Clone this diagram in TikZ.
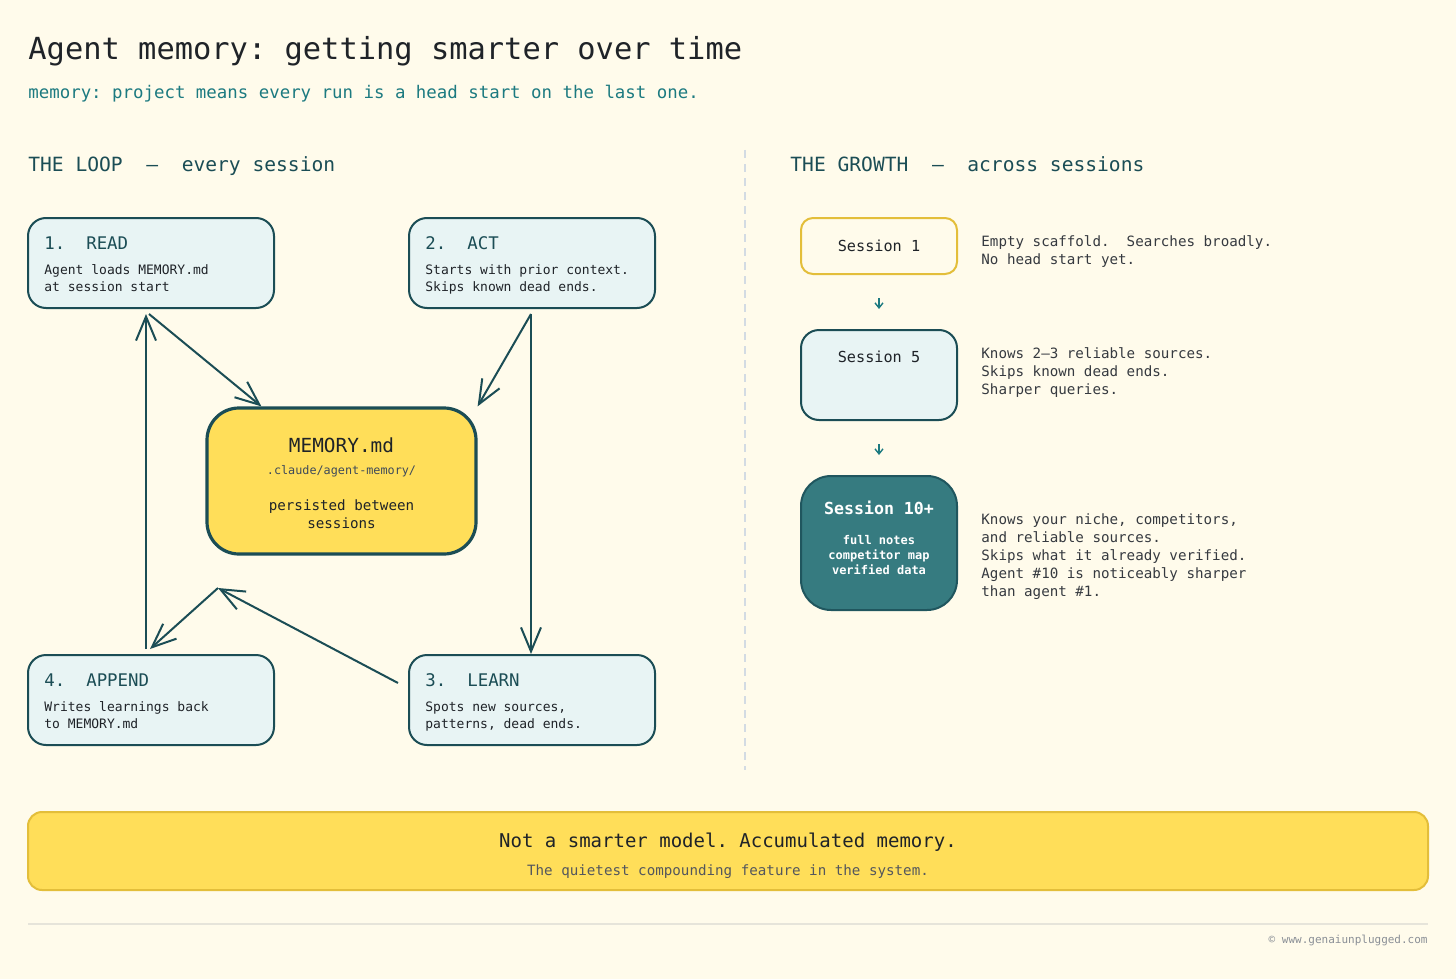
\documentclass[tikz,border=0pt]{standalone}
\usepackage{fontspec}
\setmainfont{DejaVu Sans Mono}
\usetikzlibrary{arrows.meta, positioning, calc}
\frenchspacing
\definecolor{paper}{HTML}{FFFBEB}
\definecolor{inkdark}{HTML}{1F2328}
\definecolor{loopteal}{HTML}{1B4D55}
\definecolor{subteal}{HTML}{1C7A80}
\definecolor{boxfill}{HTML}{E8F4F4}
\definecolor{memyellow}{HTML}{FFDE59}
\definecolor{goldline}{HTML}{E3BE3A}
\definecolor{sessteal}{HTML}{367B80}
\definecolor{slate}{HTML}{3E4A5A}
\definecolor{descgray}{HTML}{363A40}
\definecolor{softgray}{HTML}{8A8F96}
\definecolor{divider}{HTML}{D3DBE3}
\definecolor{rulegray}{HTML}{E6E4DA}
\tikzset{
    txt/.style={inner sep=0pt, anchor=base west, align=left},
    stepbox/.style={rectangle, draw=loopteal, fill=boxfill, line width=1pt, rounded corners=9pt, minimum width=123pt, minimum height=45pt},
    steptitle/.style={txt, text=loopteal, font=\fontsize{8.7pt}{10pt}\selectfont},
    stepbody/.style={txt, text=inkdark, font=\fontsize{6.5pt}{8.5pt}\selectfont},
    memobox/.style={rectangle, draw=loopteal, fill=memyellow, line width=1.6pt, rounded corners=16pt, minimum width=134.5pt, minimum height=73pt},
    sessbox/.style={rectangle, line width=1pt, minimum width=78pt, font=\fontsize{7.6pt}{9pt}\selectfont, text=inkdark},
    desc/.style={txt, text=descgray, font=\fontsize{7.1pt}{9pt}\selectfont},
    flow/.style={-{Straight Barb[length=12pt, width=10pt]}, line width=1pt, draw=loopteal},
    growflow/.style={-{Straight Barb[length=2.5pt, width=4pt]}, line width=0.7pt, draw=subteal, shorten <=11.5pt, shorten >=10pt}
}

\begin{document}
\begin{tikzpicture}[x=0.5pt, y=-0.5pt]
    \fill[paper] (0,0) rectangle (1456,979);
    \useasboundingbox (0,0) rectangle (1456,979);

    % heading
    \node[txt, text=inkdark, font=\fontsize{15.2pt}{18pt}\selectfont] (title) at (28,60) {Agent memory: getting smarter over time};
    \node[txt, text=subteal, font=\fontsize{8.7pt}{10pt}\selectfont] (subtitle) at (28,99) {memory: project means every run is a head start on the last one.};
    \node[txt, text=loopteal, font=\fontsize{9.8pt}{11pt}\selectfont] (loophead) at (28,171) {THE LOOP~~—~~every session};
    \node[txt, text=loopteal, font=\fontsize{9.8pt}{11pt}\selectfont] (growhead) at (790,171) {THE GROWTH~~—~~across sessions};
    \draw[divider, line width=0.7pt, dash pattern=on 4pt off 3pt] (745,150) -- (745,770);

    % the loop
    \node[stepbox] (read) at (151,263) {};
    \node[steptitle] at ([xshift=8.5pt, yshift=-16pt]read.north west) {1.~~READ};
    \node[stepbody] at ([xshift=8.5pt, yshift=-37pt]read.north west) {Agent loads MEMORY.md\\at session start};

    \node[stepbox] (act) at (532,263) {};
    \node[steptitle] at ([xshift=8.5pt, yshift=-16pt]act.north west) {2.~~ACT};
    \node[stepbody] at ([xshift=8.5pt, yshift=-37pt]act.north west) {Starts with prior context.\\Skips known dead ends.};

    \node[stepbox] (learn) at (532,700) {};
    \node[steptitle] at ([xshift=8.5pt, yshift=-16pt]learn.north west) {3.~~LEARN};
    \node[stepbody] at ([xshift=8.5pt, yshift=-37pt]learn.north west) {Spots new sources,\\patterns, dead ends.};

    \node[stepbox] (append) at (151,700) {};
    \node[steptitle] at ([xshift=8.5pt, yshift=-16pt]append.north west) {4.~~APPEND};
    \node[stepbody] at ([xshift=8.5pt, yshift=-37pt]append.north west) {Writes learnings back\\to MEMORY.md};

    \node[memobox] (mem) at (341.5,481) {};
    \node[inner sep=0pt, anchor=base, text=inkdark, font=\fontsize{9.7pt}{11pt}\selectfont] at ([yshift=-23pt]mem.north) {MEMORY.md};
    \node[inner sep=0pt, anchor=base, text=slate, font=\fontsize{5.9pt}{7pt}\selectfont] at ([yshift=-34pt]mem.north) {.claude/agent-memory/};
    \node[inner sep=0pt, anchor=base, align=center, text=inkdark, font=\fontsize{7.1pt}{9pt}\selectfont] at ([yshift=-61pt]mem.north) {persisted between\\sessions};

    \coordinate (back) at (218,588);
    \draw[flow] ([xshift=-1pt, yshift=-2.5pt]read.south) -- ([xshift=28pt]mem.north west);
    \draw[flow] ([xshift=-0.5pt, yshift=-2.5pt]act.south) -- (mem.north east);
    \draw[flow] ([xshift=-0.5pt, yshift=-2.5pt]act.south) -- ([xshift=-0.5pt]learn.north);
    \draw[flow] ([xshift=-5pt, yshift=8.5pt]learn.west) -- (back);
    \draw[flow] (back) -- ([xshift=-0.5pt, yshift=2.5pt]append.north);
    \draw[flow] ([xshift=-2.5pt, yshift=2.5pt]append.north) -- ([xshift=-2.5pt, yshift=-2.5pt]read.south);

    % the growth
    \node[sessbox, draw=goldline, fill=paper, rounded corners=6pt, minimum height=28pt] (sone) at (879,246) {Session 1};
    \node[desc] at ([xshift=11.5pt, yshift=-23.5pt]sone.north east) {Empty scaffold.~~Searches broadly.\\No head start yet.};

    \node[sessbox, draw=loopteal, fill=boxfill, rounded corners=9pt, minimum height=45pt] (sfive) at (879,375) {};
    \node[inner sep=0pt, anchor=base, text=inkdark, font=\fontsize{7.6pt}{9pt}\selectfont] at ([yshift=-16.5pt]sfive.north) {Session 5};
    \node[desc] at ([xshift=11.5pt, yshift=-32.5pt]sfive.north east) {Knows 2–3 reliable sources.\\Skips known dead ends.\\Sharper queries.};

    \node[sessbox, draw=loopteal!80!sessteal, fill=sessteal, rounded corners=15pt, minimum height=67pt] (sten) at (879,543) {};
    \node[inner sep=0pt, anchor=base, text=white, font=\bfseries\fontsize{8.3pt}{10pt}\selectfont] at ([yshift=-19.5pt]sten.north) {Session 10+};
    \node[inner sep=0pt, anchor=base, align=center, text=white, font=\bfseries\fontsize{6pt}{7.5pt}\selectfont] at ([yshift=-49.5pt]sten.north) {full notes\\competitor map\\verified data};
    \node[desc] at ([xshift=11.5pt, yshift=-60.5pt]sten.north east) {Knows your niche, competitors,\\and reliable sources.\\Skips what it already verified.\\Agent \#10 is noticeably sharper\\than agent \#1.};

    \draw[growflow] (sone) -- (sfive);
    \draw[growflow] (sfive) -- (sten);

    % takeaway
    \node[rectangle, draw=goldline, fill=memyellow, line width=1pt, rounded corners=7pt, minimum width=700pt, minimum height=39pt] (banner) at (728,851) {};
    \node[inner sep=0pt, anchor=base, text=inkdark, font=\fontsize{9.5pt}{11pt}\selectfont] at ([yshift=-18pt]banner.north) {Not a smarter model. Accumulated memory.};
    \node[inner sep=0pt, anchor=base, text=descgray!85!white, font=\fontsize{7.1pt}{9pt}\selectfont] at ([yshift=-32pt]banner.north) {The quietest compounding feature in the system.};

    \draw[rulegray, line width=0.8pt] (28,924) -- (1428,924);
    \node[inner sep=0pt, anchor=base east, text=softgray, font=\fontsize{5.5pt}{7pt}\selectfont] (credit) at (1428,943) {© www.genaiunplugged.com};
\end{tikzpicture}
\end{document}
